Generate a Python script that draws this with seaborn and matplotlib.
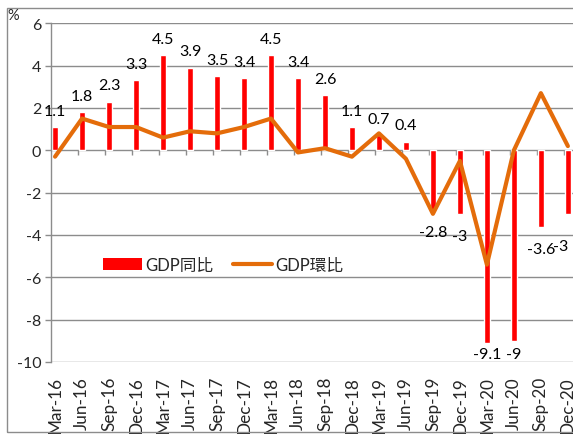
import numpy as np
import pandas as pd
import matplotlib
matplotlib.use("Agg")
import matplotlib.pyplot as plt
from matplotlib.patches import Patch, Rectangle
from matplotlib.lines import Line2D
import seaborn as sns

quarters = ["Mar-16", "Jun-16", "Sep-16", "Dec-16", "Mar-17", "Jun-17", "Sep-17", "Dec-17",
            "Mar-18", "Jun-18", "Sep-18", "Dec-18", "Mar-19", "Jun-19", "Sep-19", "Dec-19",
            "Mar-20", "Jun-20", "Sep-20", "Dec-20"]
gdp_yoy = [1.1, 1.8, 2.3, 3.3, 4.5, 3.9, 3.5, 3.4, 4.5, 3.4, 2.6, 1.1, 0.7, 0.4,
           -2.8, -3, -9.1, -9, -3.6, -3]
gdp_qoq = [-0.3, 1.5, 1.1, 1.1, 0.6, 0.9, 0.8, 1.1, 1.5, -0.1, 0.1, -0.3, 0.8, -0.4,
           -3.0, -0.5, -5.4, 0.0, 2.7, 0.2]
yticks = [6, 4, 2, 0, -2, -4, -6, -8, -10]
legend_labels = ["GDP同比", "GDP環比"]

sns.set_style("white")
plt.rcParams['font.family'] = ['Lato', 'Noto Sans CJK TC', 'DejaVu Sans']
plt.rcParams['axes.unicode_minus'] = False

RED = "#FF0000"
ORANGE = "#E46C0A"
GRID = "#8C8C8C"

df = pd.DataFrame({"q": quarters, "yoy": gdp_yoy, "qoq": gdp_qoq, "i": np.arange(len(quarters))})

fig = plt.figure(figsize=(5.73, 4.35), dpi=100)
ax = fig.add_axes([51/573, (435-363)/435, 1 - 51/573, (363-24.3)/435])

for t in yticks:
    ax.axhline(t, color=GRID, lw=1.0, zorder=0)

sns.barplot(data=df, x="q", y="yoy", color=RED, saturation=1, width=0.2, ax=ax, zorder=2)
sns.lineplot(data=df, x="i", y="qoq", color=ORANGE, lw=3.0, ax=ax, zorder=3)

ax.set_xlim(-0.15, 19.19)
ax.set_ylim(-10, 6)
ax.set_yticks(yticks)
ax.set_yticklabels([str(t) for t in yticks], fontsize=11.5)
ax.set_xticks(np.arange(len(quarters)))
ax.set_xticklabels(quarters, rotation=90, fontsize=12.3)
ax.tick_params(axis='x', length=0, pad=10)
ax.tick_params(axis='y', length=4, width=1, color=GRID, pad=3, left=True)
ax.set_xlabel("")
ax.set_ylabel("")
for s in ["top", "right", "bottom"]:
    ax.spines[s].set_visible(False)
ax.spines["left"].set_color(GRID)
ax.spines["left"].set_linewidth(1.0)

# category tick marks hanging from the zero line
ax.vlines(np.arange(len(quarters)) + 0.85, -0.2, 0, color=GRID, lw=1.0, zorder=1)

# data labels (last one nudged left/down as in the original to avoid overlap)
nudges = {19: (-0.25, -0.45)}
for i, v in enumerate(gdp_yoy):
    txt = f"{v:g}"
    if v >= 0:
        y = v + 0.78
    else:
        y = max(v - 1.05, -9.6)
    dx, dy = nudges.get(i, (0, 0))
    ax.text(i + dx, y + dy, txt, ha="center", va="center", fontsize=11.5,
            color="black", zorder=4)

handles = [Patch(facecolor=RED, edgecolor="none"),
           Line2D([0], [0], color=ORANGE, lw=3.0)]
ax.legend(handles, legend_labels, loc="center left", bbox_to_anchor=(0.0996, 0.286),
          ncol=2, frameon=False, fontsize=12, borderaxespad=0, borderpad=0,
          handlelength=2.35, handleheight=0.72, handletextpad=0.2, columnspacing=1.15)

fig.text(13/573, 1 - 16/435, "%", ha="center", va="center", fontsize=10.5)
fig.patches.append(Rectangle((7/573, 2/435), 1.1, (433-9)/435, transform=fig.transFigure,
                             fill=False, edgecolor=GRID, lw=1.0))

fig.savefig("out.png", dpi=100)
